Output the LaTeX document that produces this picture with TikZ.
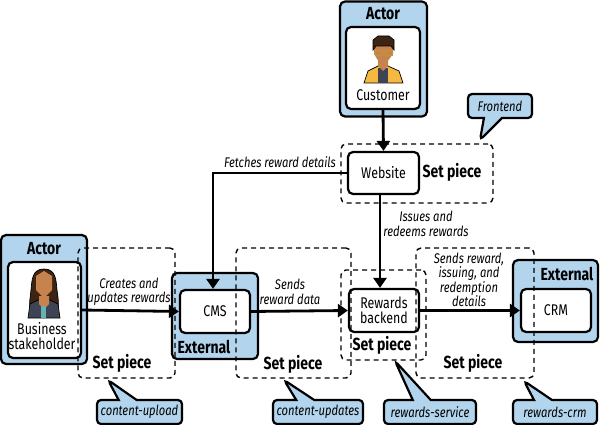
\documentclass[tikz,border=0pt]{standalone}
\usepackage{fontspec}
\setmainfont{Fira Sans}[FakeStretch=0.8]
\usetikzlibrary{arrows.meta,shapes.callouts}
\definecolor{paleblue}{HTML}{B2D4EC}
\definecolor{darkhair}{HTML}{3E2412}
\definecolor{skin}{HTML}{C6834E}
\definecolor{jacket}{HTML}{F5B942}
\definecolor{suit}{HTML}{3F4454}
\tikzset{
	frame/.style = {draw, line width=2.2pt, rounded corners=5pt, fill=paleblue, inner sep=0pt},
	card/.style = {draw, line width=2.2pt, rounded corners=5pt, fill=white, align=center, inner sep=0pt, font=\fontsize{15.5}{16}\selectfont},
	title/.style = {font=\fontsize{17.5}{18}\selectfont\bfseries, inner sep=0pt},
	setpiece/.style = {draw, dash pattern=on 5pt off 4pt, line width=1.4pt, rounded corners=5pt, inner sep=0pt},
	flow/.style = {line width=2.8pt, -{Triangle[length=10pt,width=13pt]}},
	note/.style = {font=\fontsize{14}{14.5}\selectfont\itshape, align=center, inner sep=0pt},
	tag/.style = {rectangle callout, draw, line width=2.2pt, rounded corners=4pt, fill=paleblue, inner sep=0pt, callout pointer width=18pt, font=\fontsize{14}{14}\selectfont\itshape}
}
\begin{document}
\begin{tikzpicture}[x=1pt, y=-1pt]
	\useasboundingbox (0,0) rectangle (600,425);
	% blue frames
	\node[frame, minimum width=87pt, minimum height=115pt] (customerframe) at (383.5,59) {};
	\node[frame, minimum width=86pt, minimum height=129pt] (businessframe) at (44,299.5) {};
	\node[frame, minimum width=86pt, minimum height=86pt] (cmsframe) at (215,316) {};
	\node[frame, minimum width=85pt, minimum height=82pt] (crmframe) at (555.5,301) {};
	% cards
	\node[card, minimum width=74pt, minimum height=82pt] (customer) at (383,68) {};
	\node[card, minimum width=73pt, minimum height=96pt] (business) at (44.5,310) {};
	\node[card, minimum width=71pt, minimum height=42pt] (website) at (383.5,173) {Website};
	\node[card, minimum width=70pt, minimum height=43pt] (cms) at (215,311.5) {CMS};
	\node[card, minimum width=70pt, minimum height=43pt] (rewards) at (384,310.5) {Rewards\\[-1pt]backend};
	\node[card, minimum width=70pt, minimum height=43pt] (crm) at (556,310.5) {CRM};
	% texts in the frames
	\node[title] (customertitle) at (383,14) {Actor};
	\node[title] (businesstitle) at (44,249) {Actor};
	\node[title] (cmstitle) at (204,347) {External};
	\node[title] (crmtitle) at (567,274) {External};
	\node[font=\fontsize{15.5}{16}\selectfont, inner sep=0pt] (customername) at (383,95) {Customer};
	\node[font=\fontsize{15.5}{16}\selectfont, align=center, inner sep=0pt] (businessname) at (42,336) {Business\\[-1pt]stakeholder};
	% customer figure
	\fill[jacket, draw=black, line width=.7pt] (364,83) -- (368,71) -- (378,66) -- (388,66) -- (399,71) -- (403,83) -- cycle;
	\fill[suit] (378,68) rectangle (388,83);
	\fill[skin] (378,52) -- (378,66) -- (383,71) -- (388,66) -- (388,52) -- cycle;
	\fill[skin] (374,44) -- (374,54) -- (379,62) -- (387,62) -- (393,54) -- (393,44) -- cycle;
	\fill[darkhair, draw=black, line width=.7pt] (373,50) -- (373,40) -- (378,36) -- (389,36) -- (394,40) -- (394,50) -- (391,46) -- (376,46) -- cycle;
	\draw[jacket!80!black, line width=.8pt] (375,50) rectangle (382,55) (385,50) rectangle (392,55) (382,52) -- (385,52);
	% business figure
	\fill[darkhair, draw=black, line width=.7pt] (44,269) .. controls (32,269) and (32,280) .. (31,290) .. controls (30,300) and (28,308) .. (32,316) -- (56,316) .. controls (60,308) and (58,298) .. (57,290) .. controls (56,280) and (56,269) .. (44,269) -- cycle;
	\fill[suit, draw=black, line width=.7pt] (28,318) -- (30,304) -- (38,300) -- (50,300) -- (58,304) -- (60,318) -- cycle;
	\fill[skin] (39,296) -- (39,304) -- (44,309) -- (49,304) -- (49,296) -- cycle;
	\fill[skin] (36,276) -- (36,290) -- (44,298) -- (52,290) -- (52,276) -- (44,271) -- cycle;
	\fill[teal!60] (41,306) rectangle (46,318);
	% connectors
	\draw[flow] (customer.south) -- (website.north);
	\draw[flow] (website.west) -| ([xshift=-2pt]cms.north);
	\draw[flow] ([xshift=-3.5pt]website.south) -- ([xshift=-4pt]rewards.north);
	\draw[flow] (business.east) -- (cms.west);
	\draw[flow] (cms.east) -- (rewards.west);
	\draw[flow] (rewards.east) -- (crm.west);
	% set pieces
	\node[setpiece, minimum width=152pt, minimum height=59pt] (frontendset) at (417,173.5) {};
	\node[setpiece, minimum width=97pt, minimum height=130pt] (uploadset) at (126.5,313) {};
	\node[setpiece, minimum width=115pt, minimum height=130pt] (updatesset) at (293.5,313) {};
	\node[setpiece, minimum width=85pt, minimum height=90pt] (serviceset) at (383.5,315) {};
	\node[setpiece, minimum width=118pt, minimum height=130pt] (crmset) at (475,313) {};
	\node[title] (frontendtext) at (452,172) {Set piece};
	\node[title] (uploadtext) at (122,363) {Set piece};
	\node[title] (updatestext) at (293,364) {Set piece};
	\node[title] (servicetext) at (382,345) {Set piece};
	\node[title] (crmtext) at (473,363) {Set piece};
	% labels
	\node[note] (fetcheslabel) at (280,162) {Fetches reward details};
	\node[note] (issueslabel) at (426,224) {Issues and\\redeems rewards};
	\node[note] (createslabel) at (129,292) {Creates and\\updates rewards};
	\node[note] (sendslabel) at (290,292) {Sends\\reward data};
	\node[note] (detailslabel) at (469,280) {Sends reward,\\issuing, and\\redemption\\details};
	% callouts
	\node[tag, minimum width=64pt, minimum height=24pt, callout absolute pointer={(480,140)}] (frontendtag) at (500,106) {Frontend};
	\node[tag, minimum width=85pt, minimum height=24pt, callout absolute pointer={(108,380)}] (uploadtag) at (139.5,412) {content-upload};
	\node[tag, minimum width=90pt, minimum height=24pt, callout absolute pointer={(284,380)}] (updatestag) at (318,412) {content-updates};
	\node[tag, minimum width=92pt, minimum height=24pt, callout absolute pointer={(395,361)}] (servicetag) at (430,412) {rewards-service};
	\node[tag, minimum width=84pt, minimum height=24pt, callout absolute pointer={(524,381)}] (crmtag) at (555,412) {rewards-crm};
\end{tikzpicture}
\end{document}
